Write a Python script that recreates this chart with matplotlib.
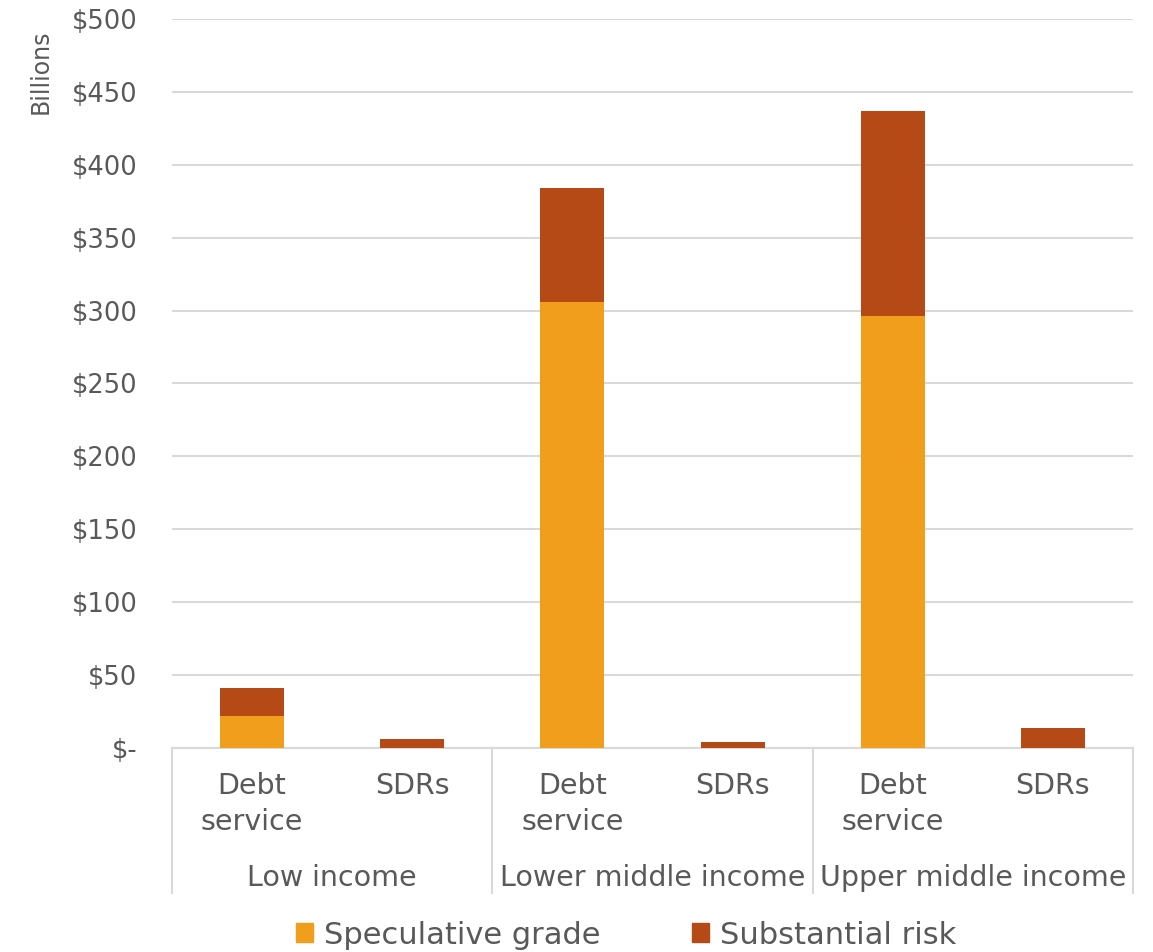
import matplotlib
matplotlib.use("Agg")
import matplotlib.pyplot as plt
from matplotlib.patches import Patch
import numpy as np

# Data (billions of USD)
groups = ["Low income", "Lower middle income", "Upper middle income"]
subcats = ["Debt\nservice", "SDRs"]
speculative = [22, 0, 306, 0, 296, 0]
substantial = [19, 6, 78, 4, 141, 14]
yticks = [0, 50, 100, 150, 200, 250, 300, 350, 400, 450, 500]
ytick_labels = ["$-", "$50", "$100", "$150", "$200", "$250", "$300",
                "$350", "$400", "$450", "$500"]

c_spec = "#F19E1C"
c_sub = "#B64A17"
text_c = "#595959"
grid_c = "#D9D9D9"

plt.rcParams["font.family"] = ["DejaVu Sans"]

W, H = 1153, 952
fig = plt.figure(figsize=(W / 100, H / 100), dpi=100)
ax = fig.add_axes([172 / W, 1 - 748 / H, (1133 - 172) / W, (748 - 19) / H])

x = np.arange(len(speculative))
ax.bar(x, speculative, width=0.4, color=c_spec, zorder=3)
ax.bar(x, substantial, width=0.4, bottom=speculative, color=c_sub, zorder=3)

ax.set_xlim(-0.5, len(x) - 0.5)
ax.set_ylim(0, 500)
ax.set_yticks(yticks)
ax.set_yticklabels(ytick_labels, fontsize=18.5, color=text_c)
ax.tick_params(axis="y", length=0, pad=25)
ax.set_xticks([])
ax.yaxis.grid(True, color=grid_c, linewidth=1.5, zorder=0)
for s in ["top", "right", "left"]:
    ax.spines[s].set_visible(False)
ax.spines["bottom"].set_color(grid_c)
ax.spines["bottom"].set_linewidth(1.5)

ax.set_ylabel("Billions", fontsize=17, color=text_c)
ax.yaxis.set_label_coords(-0.124, 0.927)

# Multi-level category axis
trans = ax.get_xaxis_transform()
def yfrac(py):
    return (748 - py) / (748 - 19)

for i in range(len(x)):
    for k, line in enumerate(subcats[i % 2].split("\n")):
        ax.text(x[i], yfrac(786 + 36 * k), line, transform=trans,
                ha="center", va="center", fontsize=20.5, color=text_c,
                clip_on=False)
for g, name in enumerate(groups):
    ax.text(2 * g + 0.5, yfrac(878), name, transform=trans, ha="center",
            va="center", fontsize=20.5, color=text_c, clip_on=False)
for b in [-0.5, 1.5, 3.5, 5.5]:
    ax.plot([b, b], [0, yfrac(893)], transform=trans, color=grid_c,
            linewidth=1.5, clip_on=False)

handles = [Patch(color=c_spec, label="Speculative grade"),
           Patch(color=c_sub, label="Substantial risk")]
fig.legend(handles=handles, loc="center", bbox_to_anchor=(0.543, 1 - 935 / H),
           ncol=2, frameon=False, fontsize=22, labelcolor=text_c,
           handlelength=0.55, handleheight=0.6, handletextpad=0.35,
           columnspacing=3.0)

fig.savefig("out.png", dpi=100, facecolor="white")
